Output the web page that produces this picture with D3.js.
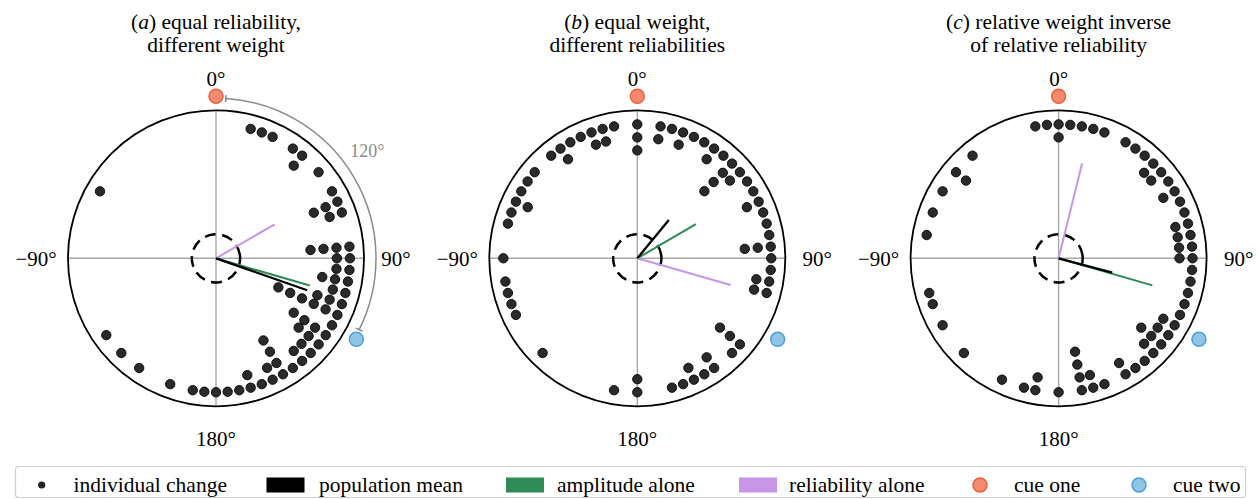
<!DOCTYPE html>
<html>
<head>
<meta charset="utf-8">
<script src="https://cdn.jsdelivr.net/npm/d3@7"></script>
<style>
  body { margin: 0; background: #fff; }
  svg { display: block; font-family: "Liberation Serif", "Times New Roman", serif; }
</style>
</head>
<body>
<div id="chart"></div>
<script>
// individual change per animal, degrees (5 deg bins), one entry per dot
var changesA = [15,20,25,35,40,40,50,60,65,65,65,70,70,85,85,85,85,90,90,95,95,100,100,100,105,105,110,110,110,
  115,115,115,115,115,115,120,125,125,125,125,130,130,130,135,135,140,140,145,150,150,150,150,155,155,160,165,165,
  170,175,180,185,190,200,215,225,235,300]
var changesB = [0,0,0,10,10,15,20,20,25,30,35,35,40,45,45,45,45,50,50,55,60,65,65,70,75,80,85,85,85,90,95,100,100,
  105,105,130,130,130,135,145,145,150,155,155,160,165,180,180,190,225,245,250,255,260,270,285,290,295,295,300,305,
  310,320,325,325,330,335,340,340,345,345,350]
var changesC = [0,0,5,10,15,20,30,35,40,45,45,50,50,55,60,60,65,70,75,75,80,80,85,85,90,90,95,100,105,110,115,120,120,
  125,125,130,130,130,135,135,140,145,150,150,160,165,165,170,170,170,170,180,190,190,195,205,225,240,250,255,280,
  290,300,310,310,320,350,355]

var panelIds = ["a", "b", "c"]
var titles = [["equal reliability,", "different weight"],
              ["equal weight,", "different reliabilities"],
              ["relative weight inverse", "of relative reliability"]]

// mean vectors [angle deg, resultant length]
var populationMean   = [[109.3, 0.653], [39.5, 0.335], [105.0, 0.375]]
var amplitudeAlone   = [[106.2, 0.660], [59.8, 0.458], [106.1, 0.659]]
var reliabilityAlone = [[59.9, 0.458], [106.0, 0.656], [13.9, 0.660]]

var cueAngles = [0, 120]
var thetaTicks = [0, 90, 180, -90]
var criticalR = 0.163
var cueGap = 120

var W = 1260, H = 499
var R = 148

var svg = d3.select("#chart").append("svg")
    .attr("width", W)
    .attr("height", H)

var cx = d3.scalePoint().domain(panelIds).range([216, 1058.6])
var cy = 258.3
var r = d3.scaleLinear().domain([0, 1]).range([0, R])
var theta = d3.scaleLinear().domain([0, 360]).range([0, 2 * Math.PI])

var colors = {mean: "#000", amp: "#2e8a57", rel: "#c896e6", cue1: "#f58a6e", cue2: "#8fc6e8"}
var strokes = {cue1: "#e9603f", cue2: "#4d9fd4"}

var dotOuter = 0.905, dotStep = 0.088

var allChanges = [changesA, changesB, changesC]

panelIds.forEach(function(id, i) {
  var g = svg.append("g")
      .attr("transform", "translate(" + cx(id) + "," + cy + ")")

  // crosshair
  g.selectAll("line.grid")
    .data([0, 90])
  .enter().append("line")
    .attr("class", "grid")
    .attr("x1", function(d) { return d3.pointRadial(theta(d), R)[0] })
    .attr("y1", function(d) { return d3.pointRadial(theta(d), R)[1] })
    .attr("x2", function(d) { return d3.pointRadial(theta(d + 180), R)[0] })
    .attr("y2", function(d) { return d3.pointRadial(theta(d + 180), R)[1] })
    .attr("stroke", "#a8a8a8")
    .attr("stroke-width", 1.4)

  g.append("circle")
    .attr("r", r(1))
    .attr("fill", "none")
    .attr("stroke", "#000")
    .attr("stroke-width", 1.8)

  // stack dots that share a bin
  var seen = {}
  var dots = allChanges[i].map(function(a) {
    var k = seen[a] || 0
    seen[a] = k + 1
    return {angle: a, k: k}
  })

  g.selectAll("circle.dot")
    .data(dots)
  .enter().append("circle")
    .attr("class", "dot")
    .attr("cx", function(d) { return d3.pointRadial(theta(d.angle), r(dotOuter - d.k * dotStep))[0] })
    .attr("cy", function(d) { return d3.pointRadial(theta(d.angle), r(dotOuter - d.k * dotStep))[1] })
    .attr("r", 4.7)
    .attr("fill", "#2a2a2a")
    .attr("stroke", "#050505")
    .attr("stroke-width", 0.9)

  g.append("circle")
    .attr("r", r(criticalR))
    .attr("fill", "none")
    .attr("stroke", "#000")
    .attr("stroke-width", 2.5)
    .attr("stroke-dasharray", "11,6.5")
    .attr("transform", "rotate(-8)")

  var vecs = [
    {v: amplitudeAlone[i], c: colors.amp, w: 2},
    {v: reliabilityAlone[i], c: colors.rel, w: 2},
    {v: populationMean[i], c: colors.mean, w: 2.3}
  ]
  g.selectAll("line.vec")
    .data(vecs)
  .enter().append("line")
    .attr("class", "vec")
    .attr("x1", 0).attr("y1", 0)
    .attr("x2", function(d) { return d3.pointRadial(theta(d.v[0]), r(d.v[1]))[0] })
    .attr("y2", function(d) { return d3.pointRadial(theta(d.v[0]), r(d.v[1]))[1] })
    .attr("stroke", function(d) { return d.c })
    .attr("stroke-width", function(d) { return d.w })

  // cue positions
  g.selectAll("circle.cue")
    .data(cueAngles)
  .enter().append("circle")
    .attr("class", "cue")
    .attr("cx", function(d) { return d3.pointRadial(theta(d), r(1.095))[0] })
    .attr("cy", function(d) { return d3.pointRadial(theta(d), r(1.095))[1] })
    .attr("r", 7)
    .attr("fill", function(d, j) { return j == 0 ? colors.cue1 : colors.cue2 })
    .attr("stroke", function(d, j) { return j == 0 ? strokes.cue1 : strokes.cue2 })
    .attr("stroke-width", 1.5)

  // theta tick labels
  g.selectAll("text.tick")
    .data(thetaTicks)
  .enter().append("text")
    .attr("class", "tick")
    .attr("x", function(d) { return d3.pointRadial(theta(d), 180)[0] })
    .attr("y", function(d) { return d3.pointRadial(theta(d), 180)[1] })
    .attr("dy", "0.35em")
    .attr("text-anchor", "middle")
    .style("font-size", "21px")
    .text(function(d) { return (d < 0 ? "\u2212" + (-d) : d) + "\u00b0" })

  var title = g.append("text")
    .attr("text-anchor", "middle")
    .attr("y", 28.5 - cy)
    .style("font-size", "21.5px")
  title.append("tspan").text("(")
  title.append("tspan").style("font-style", "italic").text(id)
  title.append("tspan").text(") " + titles[i][0])
  g.append("text")
    .attr("text-anchor", "middle")
    .attr("y", 52 - cy)
    .style("font-size", "21.5px")
    .text(titles[i][1])

  // angular distance between cues, first panel only
  if (i == 0) {
    var arcR = 160
    var a0 = theta(3.5), a1 = theta(cueGap - 3.5)
    var p = d3.path()
    p.arc(0, 0, arcR, a0 - Math.PI / 2, a1 - Math.PI / 2)
    g.append("path")
      .attr("d", p.toString())
      .attr("fill", "none")
      .attr("stroke", "#8a8a8a")
      .attr("stroke-width", 1.5)
    g.selectAll("line.endtick")
      .data([a0, a1])
    .enter().append("line")
      .attr("x1", function(d) { return d3.pointRadial(d, arcR - 3.5)[0] })
      .attr("y1", function(d) { return d3.pointRadial(d, arcR - 3.5)[1] })
      .attr("x2", function(d) { return d3.pointRadial(d, arcR + 3.5)[0] })
      .attr("y2", function(d) { return d3.pointRadial(d, arcR + 3.5)[1] })
      .attr("stroke", "#8a8a8a")
      .attr("stroke-width", 1.5)
    g.append("text")
      .attr("x", d3.pointRadial(theta(54.5), 186)[0])
      .attr("y", d3.pointRadial(theta(54.5), 186)[1])
      .attr("dy", "0.35em")
      .attr("text-anchor", "middle")
      .attr("fill", "#8a8a8a")
      .style("font-size", "18px")
      .text(cueGap + "\u00b0")
  }
})

// legend
var legendItems = ["individual change", "population mean", "amplitude alone", "reliability alone", "cue one", "cue two"]
var legendX = [41.7, 285.5, 525, 758, 980, 1139]
var ly = 485

var leg = svg.append("g")
leg.append("rect")
  .attr("x", 15.5).attr("y", 466.5)
  .attr("width", 1230).attr("height", 31)
  .attr("rx", 3)
  .attr("fill", "#fff")
  .attr("stroke", "#cfcfcf")
  .attr("stroke-width", 1.2)

leg.append("circle").attr("cx", legendX[0]).attr("cy", ly).attr("r", 3.6).attr("fill", "#222")
;[colors.mean, colors.amp, colors.rel].forEach(function(c, j) {
  leg.append("rect")
    .attr("x", legendX[j + 1] - 19).attr("y", ly - 7.5)
    .attr("width", 38).attr("height", 15)
    .attr("fill", c)
})
leg.append("circle").attr("cx", legendX[4]).attr("cy", ly).attr("r", 7)
  .attr("fill", colors.cue1).attr("stroke", strokes.cue1).attr("stroke-width", 1.5)
leg.append("circle").attr("cx", legendX[5]).attr("cy", ly).attr("r", 7)
  .attr("fill", colors.cue2).attr("stroke", strokes.cue2).attr("stroke-width", 1.5)

var textStart = [73.5, 319, 557, 789, 1014, 1173]
leg.selectAll("text.leg")
  .data(legendItems)
.enter().append("text")
  .attr("class", "leg")
  .attr("x", function(d, j) { return textStart[j] })
  .attr("y", ly)
  .attr("dy", "0.33em")
  .style("font-size", "21.5px")
  .text(function(d) { return d })
</script>
</body>
</html>
